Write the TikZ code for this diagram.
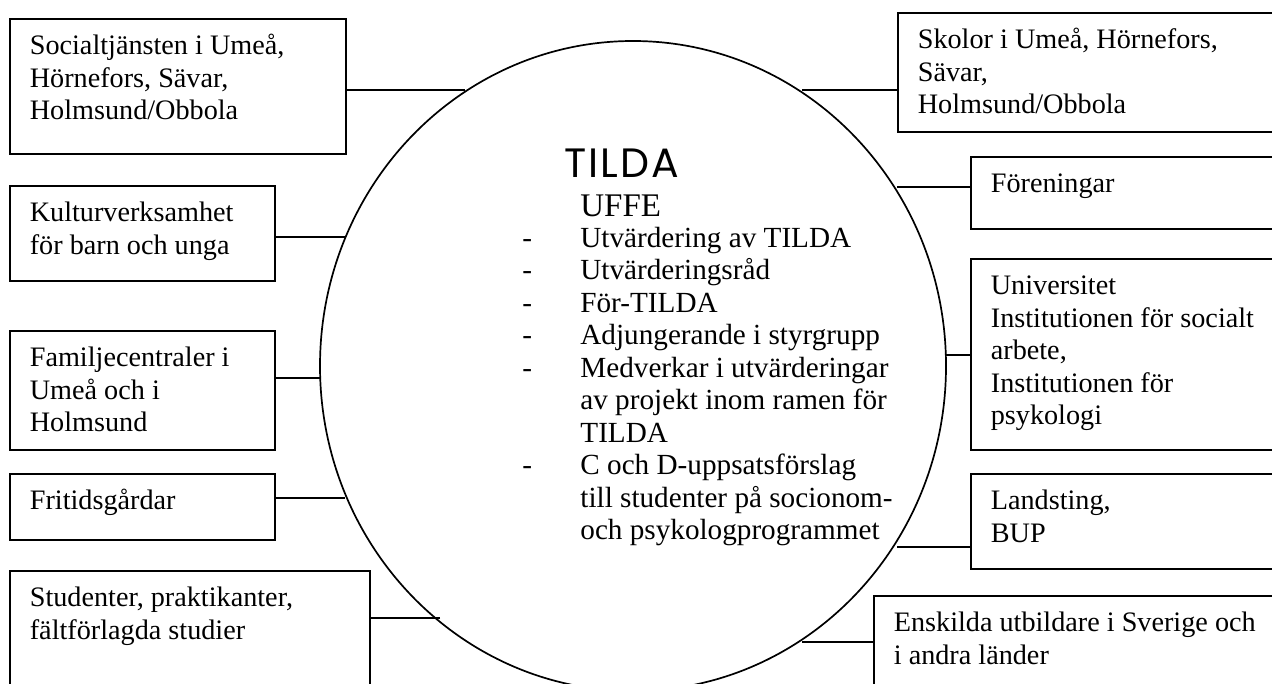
\documentclass[tikz,border=0pt]{standalone}
\usepackage{fontspec}
\setmainfont{Liberation Serif}
\newfontfamily\tildafont[LetterSpace=5]{Poppins}
\usetikzlibrary{shapes.geometric}

\tikzset{
  partner/.style={draw, line width=0.85pt, anchor=north west, inner xsep=10pt, inner ysep=0pt,
    font=\fontsize{14.1pt}{16.25pt}\selectfont},
  link/.style={line width=0.85pt},
}
% text of a partner box: width, height, lines
\newcommand{\boxtext}[3]{\parbox[t][#2][t]{#1}{\raggedright\rule{0pt}{18pt}#3}}
\newcommand{\dash}{\makebox[29pt][l]{-}}

\begin{document}
\begin{tikzpicture}[x=0.5pt,y=-0.5pt]
  \useasboundingbox (0,0) rectangle (1272,684);
  \clip (0,0) rectangle (1272,684);
  % the circle in the middle
  \node[draw, ellipse, line width=0.85pt, minimum width=313pt, minimum height=325pt, inner sep=0pt]
    (tilda) at (633,366) {};
  \node[anchor=base, inner sep=0pt, text depth=0pt, font=\tildafont\fontsize{20.5pt}{24pt}\selectfont] (title) at (622,177) {TILDA};
  \node[anchor=base west, inner sep=0pt, font=\fontsize{16.5pt}{18pt}\selectfont] (uffe) at (580,216) {UFFE};
  \node[anchor=base west, inner sep=0pt, font=\fontsize{14.6pt}{16.25pt}\selectfont] (tasks) at (522,247) {%
    \begin{tabular}[t]{@{}l@{}l@{}}
      \dash & Utvärdering av TILDA\\
      \dash & Utvärderingsråd\\
      \dash & För-TILDA\\
      \dash & Adjungerande i styrgrupp\\
      \dash & Medverkar i utvärderingar\\
            & av projekt inom ramen för\\
            & TILDA\\
      \dash & C och D-uppsatsförslag\\
            & till studenter på socionom-\\
            & och psykologprogrammet
    \end{tabular}};
  % partners on the left
  \node[partner] (social) at (9,18) {\boxtext{148pt}{67.5pt}{Socialtjänsten i Umeå,\\ Hörnefors, Sävar,\\ Holmsund/Obbola}};
  \node[partner] (kultur) at (9,185) {\boxtext{112.5pt}{47.5pt}{Kulturverksamhet\\ för barn och unga}};
  \node[partner] (familj) at (9,330) {\boxtext{112.5pt}{59.5pt}{Familjecentraler i\\ Umeå och i\\ Holmsund}};
  \node[partner] (fritid) at (9,473) {\boxtext{112.5pt}{33pt}{Fritidsgårdar}};
  \node[partner] (student) at (9,570) {\boxtext{160pt}{65pt}{Studenter, praktikanter,\\ fältförlagda studier}};
  % partners on the right
  \node[partner] (skolor) at (897,12) {\boxtext{175pt}{59.5pt}{Skolor i Umeå, Hörnefors,\\ Sävar,\\ Holmsund/Obbola}};
  \node[partner] (forening) at (970,156) {\boxtext{140pt}{36pt}{Föreningar}};
  \node[partner] (univ) at (970,258) {\boxtext{140pt}{95.5pt}{Universitet\\ Institutionen för socialt\\ arbete,\\ Institutionen för\\ psykologi}};
  \node[partner] (landsting) at (970,473) {\boxtext{140pt}{47.5pt}{Landsting,\\ BUP}};
  \node[partner] (enskild) at (873,595) {\boxtext{190pt}{55pt}{Enskilda utbildare i Sverige och\\ i andra länder}};
  % where the lines meet the circle
  \coordinate (e-social) at (465,90);
  \coordinate (e-kultur) at (345,237);
  \coordinate (e-familj) at (320,378);
  \coordinate (e-fritid) at (345,498);
  \coordinate (e-student) at (440,618);
  \coordinate (e-skolor) at (802,90);
  \coordinate (e-forening) at (897,187);
  \coordinate (e-univ) at (946,355);
  \coordinate (e-landsting) at (897,547);
  \coordinate (e-enskild) at (802,642);
  \foreach \p/\side in {social/east,kultur/east,familj/east,fritid/east,student/east,
                        skolor/west,forening/west,univ/west,landsting/west,enskild/west}
    {\draw[link] (e-\p) -- (e-\p -| \p.\side);}
\end{tikzpicture}
\end{document}
